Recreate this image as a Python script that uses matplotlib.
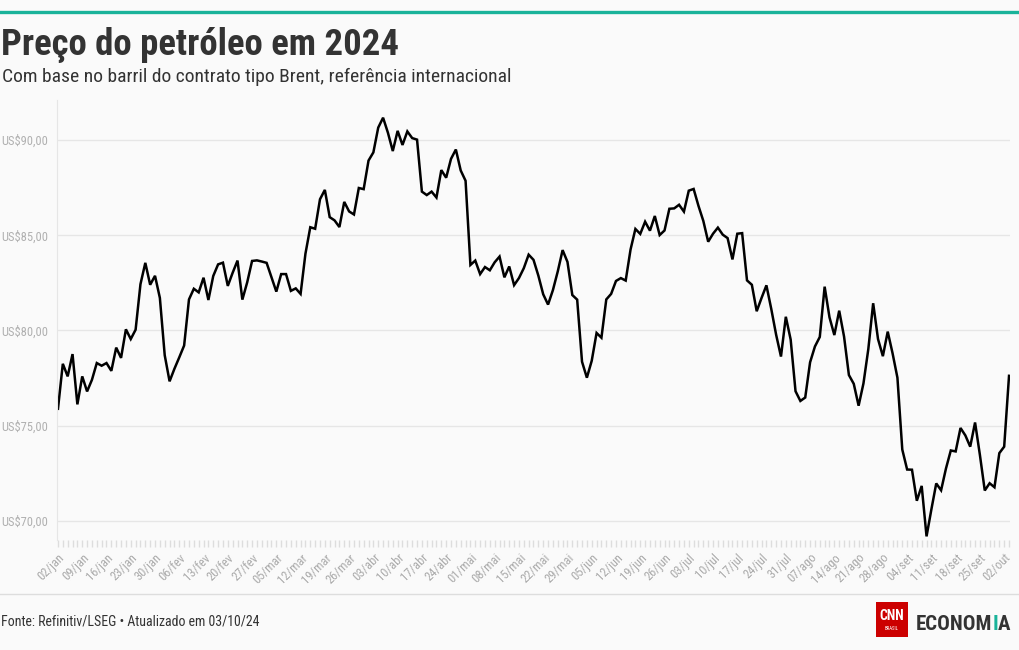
import matplotlib
matplotlib.use("Agg")
import matplotlib.pyplot as plt
import matplotlib.ticker as mticker
from matplotlib import font_manager
from matplotlib.lines import Line2D
from matplotlib.patches import Rectangle
import pandas as pd

# Brent front-month close, 2024 (US$/barrel), one value per trading day
jan = [75.89, 78.25, 77.59, 78.76, 76.12, 77.59, 76.80, 77.41, 78.29, 78.15, 78.29,
       77.88, 79.10, 78.56, 80.06, 79.55, 80.04, 82.43, 83.55, 82.40, 82.87, 81.71]
fev = [78.70, 77.33, 77.99, 78.59, 79.21, 81.63, 82.19, 82.00, 82.77, 81.60, 82.86,
       83.47, 83.56, 82.34, 83.03, 83.67, 81.62, 82.53, 83.65, 83.68, 83.62]
mar = [83.55, 82.80, 82.04, 82.96, 82.96, 82.08, 82.21, 81.92, 84.03, 85.42, 85.34,
       86.89, 87.38, 85.95, 85.78, 85.43, 86.75, 86.25, 86.09, 87.48]
abr = [87.42, 88.92, 89.35, 90.65, 91.17, 90.38, 89.42, 90.48, 89.74, 90.45, 90.10,
       90.02, 87.29, 87.11, 87.29, 86.98, 88.42, 88.02, 89.01, 89.50, 88.40, 87.86]
mai = [83.44, 83.67, 82.96, 83.33, 83.16, 83.58, 83.88, 82.79, 83.36, 82.38, 82.75,
       83.27, 83.98, 83.71, 82.88, 81.90, 81.36, 82.12, 83.10, 84.22, 83.60, 81.86, 81.62]
jun = [78.36, 77.52, 78.41, 79.87, 79.62, 81.63, 81.92, 82.60, 82.75, 82.62, 84.25,
       85.33, 85.07, 85.71, 85.24, 86.01, 85.01, 85.25, 86.39, 86.41]
jul = [86.60, 86.24, 87.34, 87.43, 86.54, 85.75, 84.66, 85.08, 85.40, 85.03, 84.85,
       83.73, 85.08, 85.11, 82.63, 82.40, 81.01, 81.71, 82.37, 81.13, 79.78, 78.63, 80.72]
ago = [79.52, 76.81, 76.30, 76.48, 78.33, 79.16, 79.66, 82.30, 80.69, 79.76, 81.04,
       79.68, 77.66, 77.20, 76.05, 77.22, 79.02, 81.43, 79.55, 78.65, 79.94, 78.80]
set_ = [77.52, 73.75, 72.70, 72.69, 71.06, 71.84, 69.19, 70.61, 71.97, 71.61, 72.75,
        73.70, 73.65, 74.88, 74.49, 73.90, 75.17, 73.46, 71.60, 71.98, 71.77]
out = [73.56, 73.90, 77.62]
prices = jan + fev + mar + abr + mai + jun + jul + ago + set_ + out

# trading days: weekdays from 02/jan to 03/out, no session on Good Friday
dates = pd.bdate_range("2024-01-02", "2024-10-03").drop(pd.Timestamp("2024-03-29"))
months = ["jan", "fev", "mar", "abr", "mai", "jun", "jul", "ago", "set", "out", "nov", "dez"]
tick_idx = list(range(0, len(dates), 5))
tick_labels = [f"{dates[i].day:02d}/{months[dates[i].month - 1]}" for i in tick_idx]
y_ticks = [70, 75, 80, 85, 90]

installed = {f.name for f in font_manager.fontManager.ttflist}
font = next((n for n in ["Roboto Condensed", "Liberation Sans Narrow", "Roboto"]
             if n in installed), "DejaVu Sans")
plt.rcParams["font.family"] = [font, "DejaVu Sans"]

W, H = 1020, 650
fx = lambda px: px / W
fy = lambda py: 1 - py / H

bg = "#fafafa"
fig = plt.figure(figsize=(W / 100, H / 100), dpi=100, facecolor=bg)
ax = fig.add_axes([fx(57), fy(540), (1010 - 57) / W, (540 - 100) / H])
ax.set_facecolor(bg)

x = list(range(len(prices)))
ax.plot(x, prices, color="black", linewidth=1.8, solid_joinstyle="miter")
ax.set_xlim(-0.2, len(prices) - 0.8)
ax.set_ylim(69.0, 92.1)

ax.set_yticks(y_ticks)
ax.yaxis.set_major_formatter(
    mticker.FuncFormatter(lambda v, p: f"US${v:.2f}".replace(".", ",")))
ax.grid(axis="y", color="#e6e6e6", linewidth=1)
ax.tick_params(axis="y", length=0, pad=6.5, labelcolor="#b0b0b0", labelsize=9)

ax.set_xticks(tick_idx)
ax.set_xticks(x, minor=True)
ax.set_xticklabels(tick_labels, rotation=45, ha="right", va="top",
                   rotation_mode="anchor")
ax.tick_params(axis="x", which="both", length=5, color="#dddddd", width=1,
               labelcolor="#aaaaaa", labelsize=9, pad=3)

for s in ["top", "right", "bottom"]:
    ax.spines[s].set_visible(False)
ax.spines["left"].set_color("#e6e6e6")

# header
fig.add_artist(Line2D([0, 1], [fy(12), fy(12)], color="#1ab39a", linewidth=2.4))
fig.text(fx(1), fy(55), "Preço do petróleo em 2024", fontsize=26.5, fontweight="bold",
         color="#333333", va="baseline")
fig.text(fx(2), fy(82), "Com base no barril do contrato tipo Brent, referência internacional",
         fontsize=14, color="#333333", va="baseline")

# footer
fig.add_artist(Line2D([0, 1], [fy(594), fy(594)], color="#dddddd", linewidth=1))
fig.text(fx(1), fy(626), "Fonte: Refinitiv/LSEG • Atualizado em 03/10/24",
         fontsize=10, color="#333333", va="baseline")

fig.add_artist(Rectangle((fx(876), fy(637)), 32 / W, 35 / H, transform=fig.transFigure,
                         facecolor="#cc0000", edgecolor="none"))
fig.text(fx(892), fy(616), "CNN", fontsize=10, fontweight="bold", color="white",
         ha="center", va="center")
fig.text(fx(892), fy(629), "BRASIL", fontsize=3.5, color="white", ha="center", va="center")

fig.canvas.draw()
renderer = fig.canvas.get_renderer()
xpos = fx(916)
for part, col in [("ECONOM", "#333333"), ("I", "#1ab39a"), ("A", "#333333")]:
    t = fig.text(xpos, fy(630), part, fontsize=15, fontweight="bold", color=col,
                 va="baseline")
    bb = t.get_window_extent(renderer)
    xpos = bb.x1 / W

fig.savefig("out.png", dpi=100, facecolor=bg)
